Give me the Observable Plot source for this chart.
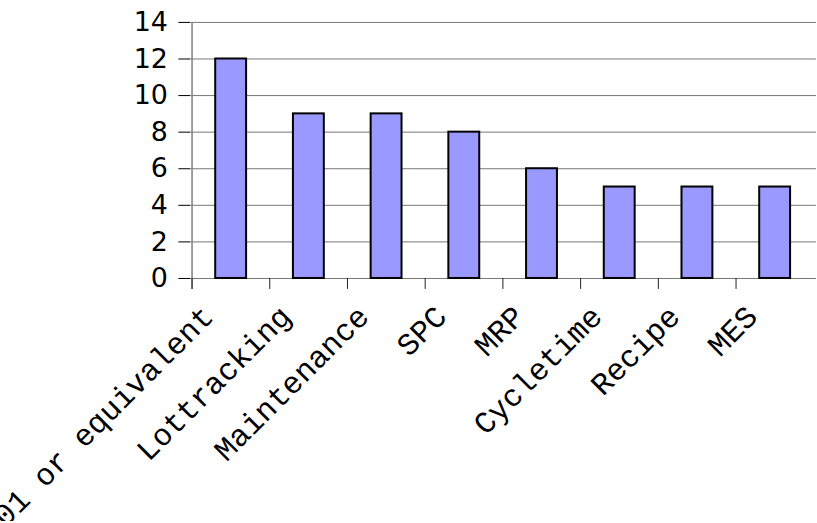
<!DOCTYPE html>
<html>
<head>
<meta charset="utf-8">
<script src="https://cdn.jsdelivr.net/npm/d3@7"></script>
<script src="https://cdn.jsdelivr.net/npm/@observablehq/plot@0.6"></script>
<style>
  html, body { margin: 0; padding: 0; background: #ffffff; overflow: hidden; }
</style>
</head>
<body>
<div id="chart"></div>
<script>
// Number of mentions per system category
const categories = ["ISO 9001 or equivalent", "Lottracking", "Maintenance", "SPC", "MRP", "Cycletime", "Recipe", "MES"];
const counts = [12, 9, 9, 8, 6, 5, 5, 5];
const yTicks = [0, 2, 4, 6, 8, 10, 12, 14];

const data = categories.map((name, i) => ({name, count: counts[i]}));

const width = 820;
const marginLeft = 191;
const marginRight = 1;
// width of one category slot; ticks sit on the slot boundaries
const step = (width - marginLeft - marginRight) / categories.length;

const chart = Plot.plot({
  width,
  height: 523,
  marginLeft,
  marginRight,
  marginTop: 22,
  marginBottom: 244,
  style: {background: "#ffffff", fontFamily: "DejaVu Sans", fontSize: "27px", color: "#000000", overflow: "visible"},
  x: {domain: categories, paddingInner: 0.6, paddingOuter: 0.3, axis: null},
  y: {domain: [0, 14], ticks: yTicks, tickSize: 12, tickPadding: 11, tickFormat: d => d, label: null},
  marks: [
    // horizontal gridlines
    Plot.ruleY(yTicks, {stroke: "#767676", strokeWidth: 1}),
    // bars
    Plot.barY(data, {x: "name", y: "count", fill: "#9999FF", stroke: "#000000", strokeWidth: 2}),
    // vertical axis line, running down past zero into the first category tick
    Plot.ruleX([categories[0]], {x: d => d, y1: 14, y2: 0, insetBottom: -11, dx: -step / 2, stroke: "#7f7f7f", strokeWidth: 1.5}),
    // category ticks on slot boundaries
    Plot.ruleX(categories, {x: d => d, y1: 0, y2: 0, insetBottom: -11, dx: -step / 2, stroke: "#222222", strokeWidth: 1}),
    // rotated category labels
    Plot.text(data, {
      x: "name",
      text: "name",
      frameAnchor: "bottom",
      rotate: -45,
      textAnchor: "end",
      lineAnchor: "bottom",
      dx: -16,
      dy: 40,
      fontFamily: "'Courier New', Courier, 'Nimbus Mono PS', FreeMono, 'Liberation Mono', monospace",
      fontSize: 31,
      fill: "#000000"
    })
  ]
});

document.getElementById("chart").append(chart);
</script>
</body>
</html>
